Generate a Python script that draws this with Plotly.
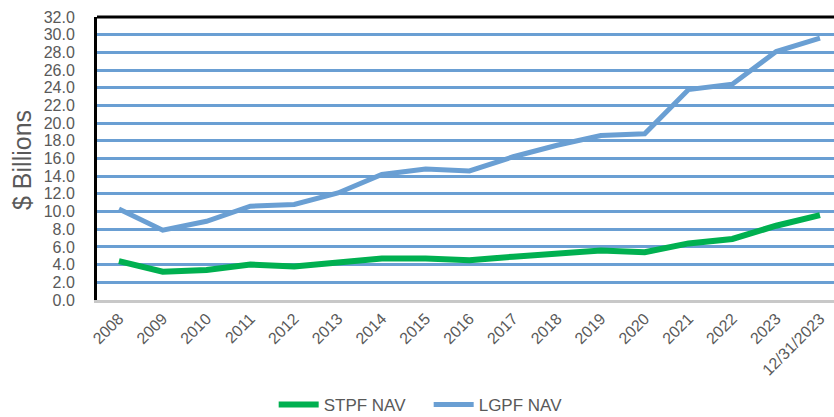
import plotly.graph_objects as go

categories = ["2008", "2009", "2010", "2011", "2012", "2013", "2014", "2015", "2016",
              "2017", "2018", "2019", "2020", "2021", "2022", "2023", "12/31/2023"]
stpf_nav = [4.4, 3.2, 3.4, 4.0, 3.8, 4.2, 4.7, 4.7, 4.5, 4.9, 5.3, 5.6, 5.4, 6.4, 6.9, 8.4, 9.6]
lgpf_nav = [10.3, 7.9, 8.9, 10.6, 10.8, 12.1, 14.2, 14.8, 14.6, 16.2, 17.5, 18.6, 18.8, 23.8, 24.4, 28.1, 29.6]
y_ticks = [0, 2, 4, 6, 8, 10, 12, 14, 16, 18, 20, 22, 24, 26, 28, 30, 32]

FONT = "Liberation Sans, Arial, sans-serif"
TXT = "#595959"
GRID = "#6A9FD3"

fig = go.Figure()
fig.add_trace(go.Scatter(x=categories, y=stpf_nav, mode="lines", name="STPF NAV",
                         line=dict(color="#00B050", width=6)))
fig.add_trace(go.Scatter(x=categories, y=lgpf_nav, mode="lines", name="LGPF NAV",
                         line=dict(color="#6A9FD3", width=5)))

fig.add_shape(type="line", xref="paper", yref="paper", x0=0, x1=1, y0=1, y1=1,
              line=dict(color="black", width=3), layer="above")

fig.add_annotation(text="$ Billions", xref="paper", yref="paper",
                   x=(22 - 97) / 737, y=(300 - 160) / 283, xanchor="center", yanchor="middle",
                   textangle=-90, showarrow=False,
                   font=dict(family=FONT, size=25, color=TXT))

fig.update_layout(
    width=834, height=417,
    margin=dict(l=97, r=0, t=17, b=117),
    paper_bgcolor="white", plot_bgcolor="white",
    font=dict(family=FONT, color=TXT),
    showlegend=True,
    legend=dict(orientation="h", xref="container", yref="container",
                x=0.514, xanchor="center", y=(417 - 405) / 417, yanchor="middle",
                font=dict(size=17, color=TXT), itemwidth=40,
                entrywidth=100, entrywidthmode="pixels",
                tracegroupgap=0, bgcolor="rgba(0,0,0,0)"),
    xaxis=dict(type="category", range=[-0.5, 16.32], showgrid=False,
               showline=True, linecolor="#C8C8C8", linewidth=3,
               tickangle=-45, tickfont=dict(size=16, color=TXT),
               ticks="", automargin=False),
    yaxis=dict(range=[0, 32], tickvals=y_ticks, tickformat=".1f",
               showgrid=True, gridcolor=GRID, gridwidth=3,
               showline=True, linecolor="black", linewidth=3,
               zeroline=False, ticks="", ticklabelstandoff=16,
               tickfont=dict(size=16, color=TXT), automargin=False),
)

fig.write_html("out.html", config={"displayModeBar": False},
               post_script="document.body.style.margin='0';document.body.style.overflow='hidden';")
